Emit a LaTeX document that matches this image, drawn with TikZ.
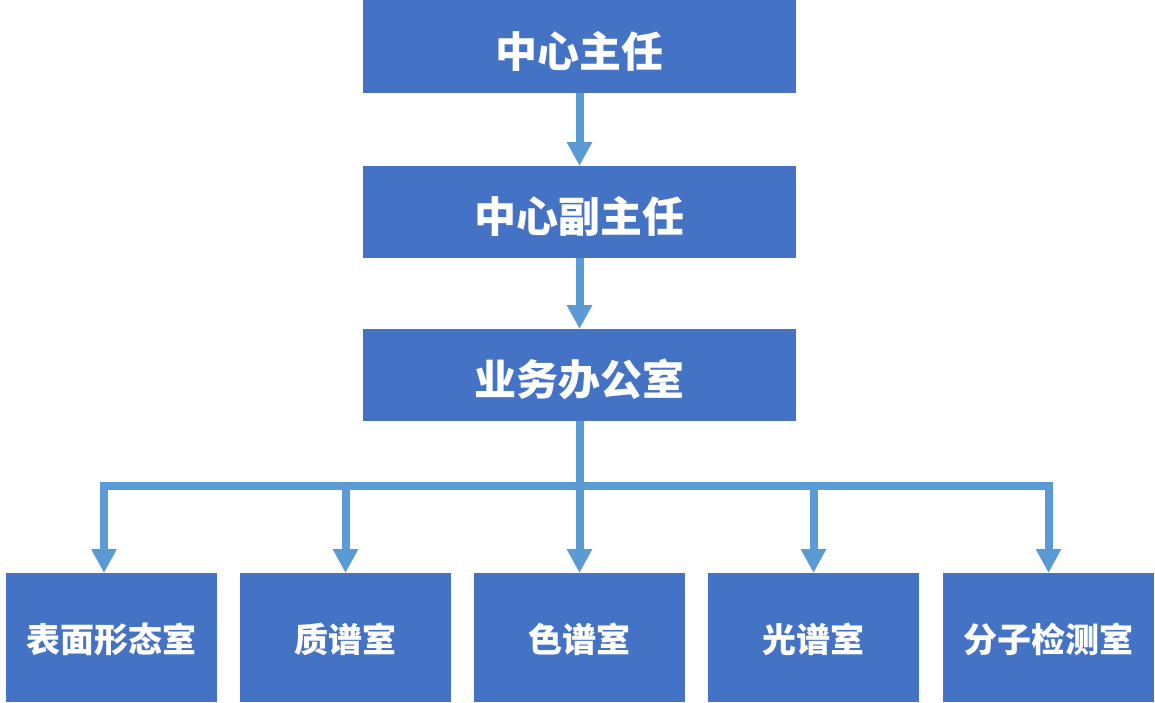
\documentclass[tikz,border=0pt]{standalone}
\usepackage{fontspec}
\newfontfamily\cjk{Noto Sans CJK SC}
\usetikzlibrary{arrows.meta}

\definecolor{boxblue}{HTML}{4472C4}
\definecolor{lineblue}{HTML}{5B9BD5}

\begin{document}
\begin{tikzpicture}[x=1pt,y=-1pt,
    head/.style={fill=boxblue,text=white,inner sep=0pt,outer sep=0pt,
        minimum width=433pt,minimum height=92pt,
        text height=44pt,text depth=3pt,
        font=\cjk\bfseries\fontsize{42}{42}\selectfont},
    lab/.style={fill=boxblue,text=white,inner sep=0pt,outer sep=0pt,
        minimum width=211pt,minimum height=129pt,
        text height=31pt,text depth=2pt,
        font=\cjk\bfseries\fontsize{34}{34}\selectfont},
    link/.style={draw=lineblue,line width=8pt,
        -{Triangle[width=24pt,length=24pt]}},
    feed/.style={draw=lineblue,line width=8pt}]
    \useasboundingbox (0,0) rectangle (1155,702);
    \pgfmathsetmacro{\mx}{579.5}
    \pgfmathsetmacro{\ly}{637.5}

    \node[head,minimum height=93pt] (chief) at (\mx,46.5) {中心主任};
    \node[head] (deputy) at (\mx,212) {中心副主任};
    \node[head] (office) at (\mx,375) {业务办公室};

    \node[lab] (surface) at (111.5,\ly) {表面形态室};
    \node[lab] (mass)    at (345.5,\ly) {质谱室};
    \node[lab] (chrom)   at (\mx,\ly)   {色谱室};
    \node[lab] (optic)   at (813.5,\ly) {光谱室};
    \node[lab] (molec)   at (1048.5,\ly) {分子检测室};

    \coordinate (bus) at (\mx,486);

    \draw[link] (chief) -- (deputy);
    \draw[link] (deputy) -- (office);
    \draw[feed] (office.south) -- (bus);
    \draw[link] (bus) -| ([xshift=-7.5pt]surface.north);
    \foreach \n in {mass,chrom,optic,molec}
        \draw[link] (bus) -| (\n.north);
\end{tikzpicture}
\end{document}
